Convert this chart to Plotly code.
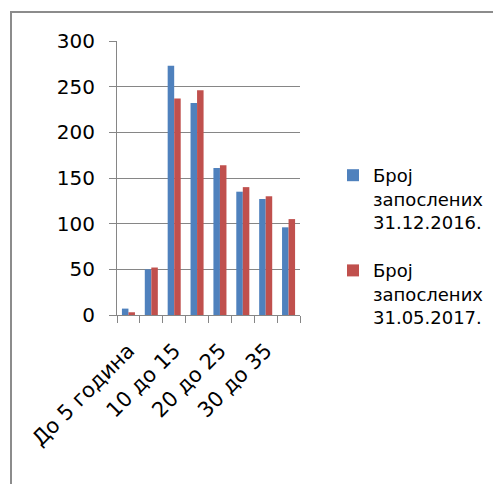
import plotly.graph_objects as go

categories = ["До 5 година", "5 до 10", "10 до 15", "15 до 20", "20 до 25", "25 до 30", "30 до 35", "Преко 35"]
tick_labels = ["До 5 година", "", "10 до 15", "", "20 до 25", "", "30 до 35", ""]
series_2016 = [7, 50, 273, 232, 161, 135, 127, 96]
series_2017 = [3, 52, 237, 246, 164, 140, 130, 105]
name_2016 = "Број<br>запослених<br>31.12.2016."
name_2017 = "Број<br>запослених<br>31.05.2017."

OFF = 8  # default page body margin
W, H = 501 - OFF, 484 - OFF
L, R, T, B = 117 - OFF, 300 - OFF, 41 - OFF, 315 - OFF

fig = go.Figure()
fig.add_trace(go.Bar(x=categories, y=series_2016, name=name_2016, legendgroup="a",
                     marker_color="#4F81BD", marker_line_width=0))
fig.add_trace(go.Bar(x=categories, y=series_2017, name=name_2017, legendgroup="b",
                     marker_color="#C0504D", marker_line_width=0))

pw = R - L
ph = B - T
def px_x(x):
    return (x - OFF - L) / pw
def px_y(y):
    return (B - (y - OFF)) / ph

font = dict(family="DejaVu Sans", size=18, color="#000000")
yfont = dict(family="DejaVu Sans", size=20, color="#000000")
xfont = dict(family="DejaVu Sans", size=21, color="#000000")

fig.update_layout(
    width=W, height=H,
    margin=dict(l=L, r=W - R, t=T, b=H - B, pad=0, autoexpand=False),
    paper_bgcolor="white", plot_bgcolor="white",
    barmode="group", bargap=0.43, bargroupgap=0,
    font=font,
    legend=dict(x=px_x(333), y=px_y(157), xanchor="left", yanchor="top",
                font=font, valign="top", tracegroupgap=22, bgcolor="rgba(0,0,0,0)"),
    xaxis=dict(type="category", tickmode="array", tickvals=categories, ticktext=tick_labels,
               tickson="boundaries", ticks="outside", ticklen=7, tickcolor="#868686",
               showline=True, linecolor="#868686", linewidth=1, tickangle=-45,
               showgrid=False, tickfont=xfont, ticklabelstandoff=14, automargin=False),
    yaxis=dict(range=[0, 300], dtick=50, ticks="outside", ticklen=7, tickcolor="#868686",
               showline=True, linecolor="#868686", linewidth=1,
               showgrid=True, gridcolor="#868686", gridwidth=1, zeroline=False,
               tickfont=yfont, ticklabelstandoff=10, automargin=False),
    shapes=[dict(type="rect", xref="paper", yref="paper",
                 x0=px_x(11), x1=px_x(530), y0=px_y(520), y1=px_y(12),
                 line=dict(color="#8c8c8c", width=2), fillcolor="rgba(0,0,0,0)", layer="below")],
)

fig.write_html("out.html")
